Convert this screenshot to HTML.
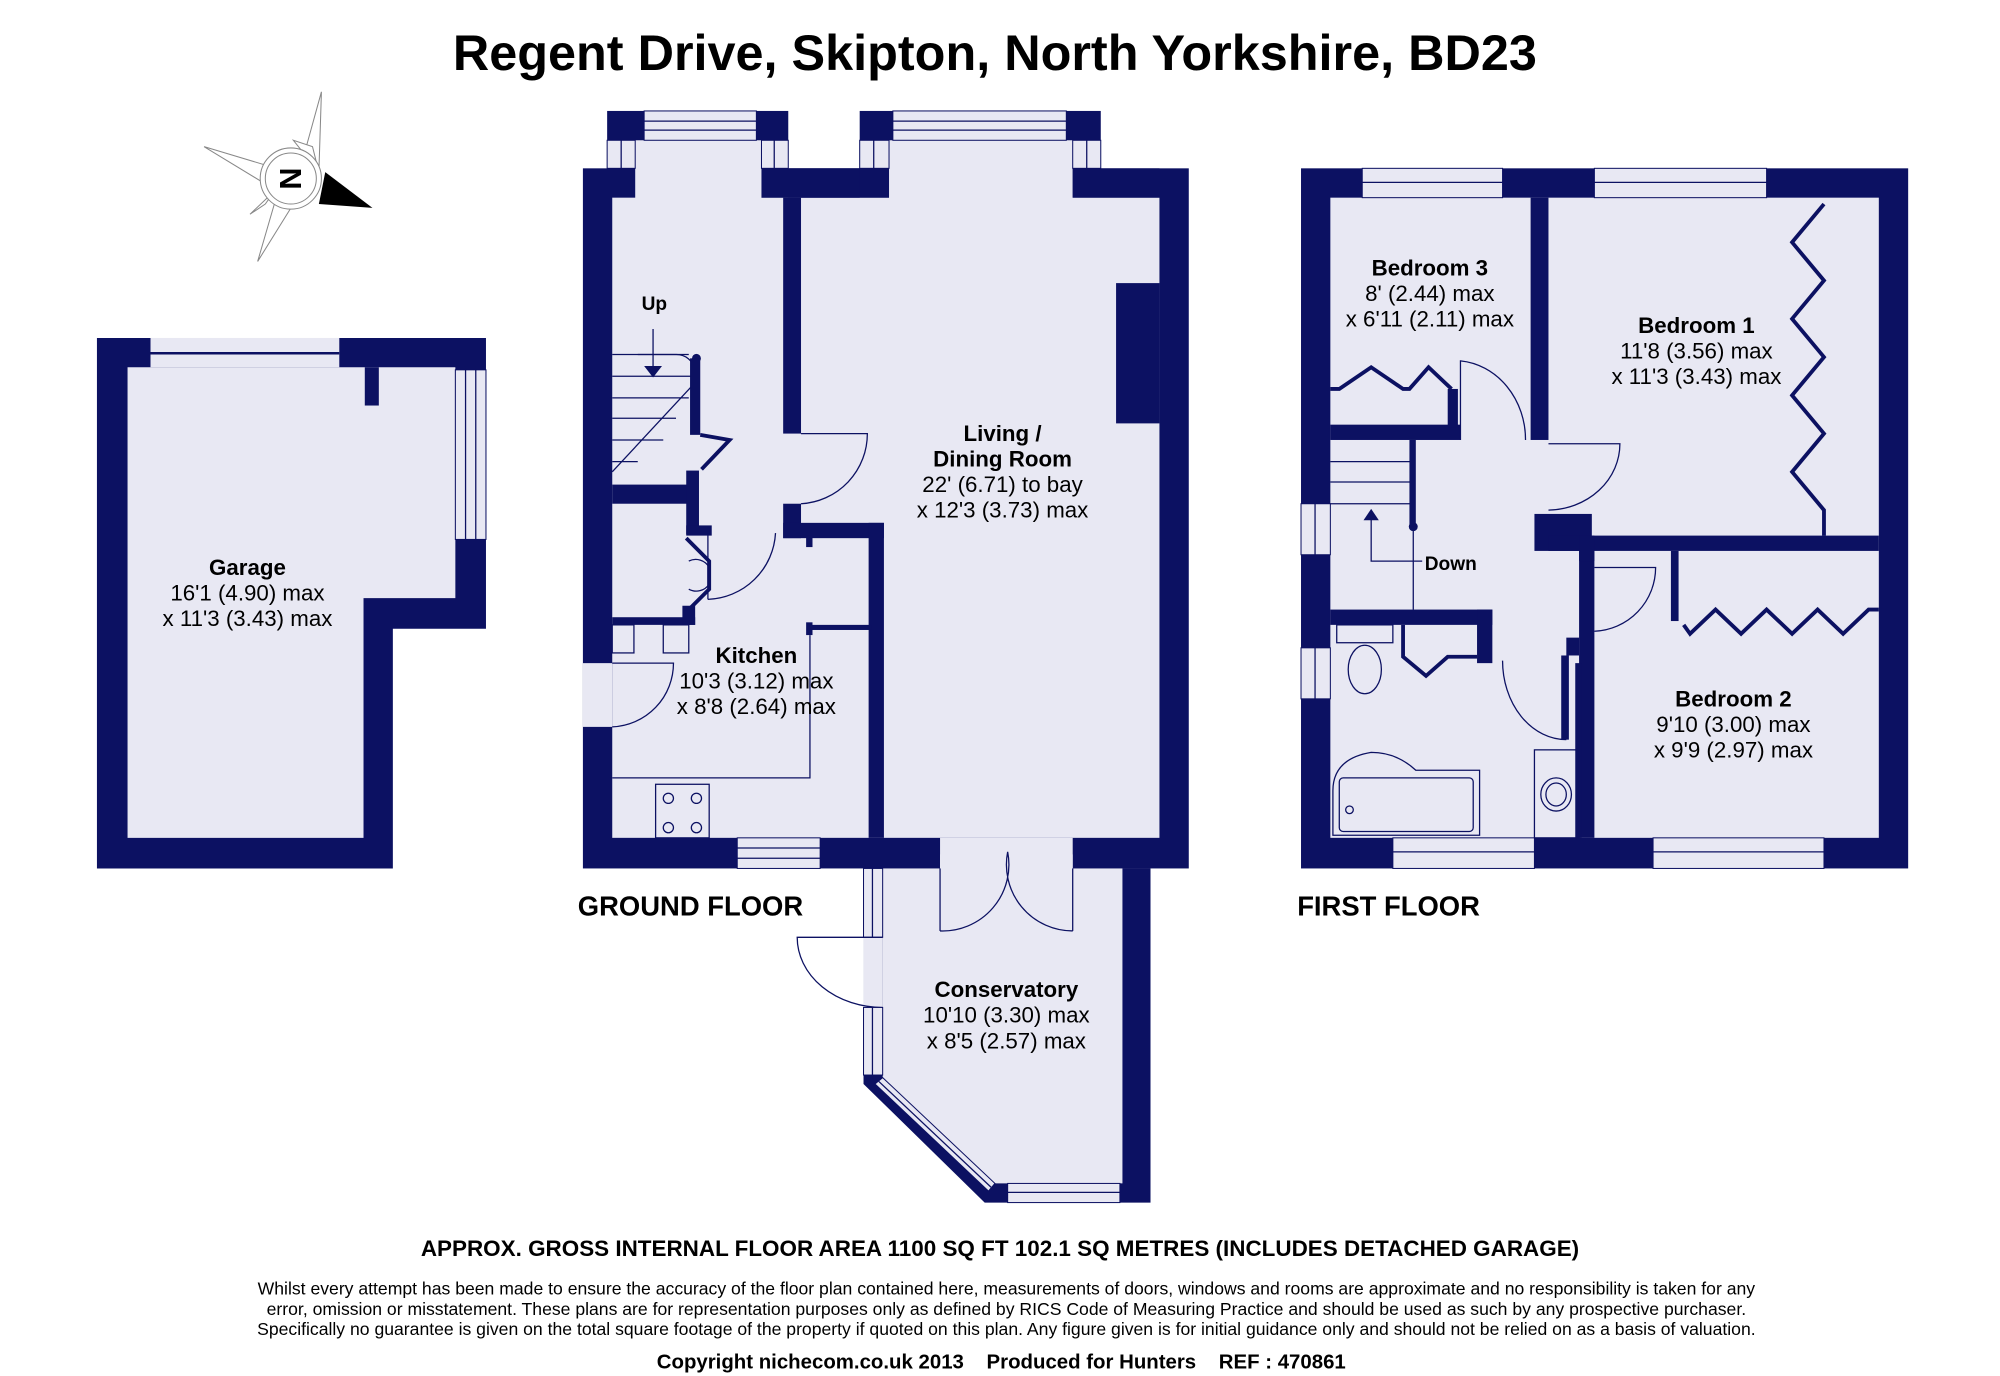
<!DOCTYPE html>
<html><head><meta charset="utf-8"><style>
html,body{margin:0;padding:0;background:#fff;}
svg{display:block;}
text{font-family:"Liberation Sans",Arial,sans-serif;fill:#000;}
</style></head><body>
<svg width="2000" height="1376" viewBox="0 0 1568 1079" preserveAspectRatio="none" xmlns="http://www.w3.org/2000/svg">
<defs><style>
.w{fill:#0c1162;}
.f{fill:#e8e8f3;}
.l{fill:none;stroke:#0c1162;stroke-width:1;}
.win{fill:#e8e8f3;stroke:#0c1162;stroke-width:0.8;}
</style></defs>
<rect width="1568" height="1079" fill="#fff"/>
<text x="780" y="55" font-size="39.5" font-weight="bold" text-anchor="middle">Regent Drive, Skipton, North Yorkshire, BD23</text>

<!-- compass -->
<g stroke="#888" stroke-width="0.8" fill="#fff">
<polygon points="252,72 236,130 250,135"/>
<polygon points="160,115 210,130 206,143"/>
<polygon points="202,205 218,150 230,160"/>
<polygon points="230,110 250,135 245,115"/>
<polygon points="196,168 215,150 208,160"/>
<circle cx="228" cy="140" r="24"/>
<circle cx="228" cy="140" r="20"/>
</g>
<polygon points="255,135 292,163 250,160" fill="#000"/>
<text x="228" y="148" font-size="24" font-weight="bold" text-anchor="middle" transform="rotate(-90 228 140)">N</text>

<!-- GARAGE -->
<polygon class="w" points="76,265 381,265 381,493 308,493 308,681 76,681"/>
<polygon class="f" points="100,288 357,288 357,469 285,469 285,657 100,657"/>
<rect class="f" x="118" y="265" width="148" height="23"/>
<line class="l" x1="118" y1="277" x2="266" y2="277" style="stroke-width:2"/>
<rect class="w" x="286" y="288" width="11" height="30"/>
<rect class="win" x="357" y="290" width="24" height="133"/>
<line class="l" x1="365" y1="290" x2="365" y2="423"/><line class="l" x1="373" y1="290" x2="373" y2="423"/>
<text x="194" y="451" font-size="17.5" font-weight="bold" text-anchor="middle">Garage</text>
<text x="194" y="471" font-size="17.5" text-anchor="middle">16'1 (4.90) max</text>
<text x="194" y="491" font-size="17.5" text-anchor="middle">x 11'3 (3.43) max</text>

<!-- GROUND FLOOR main -->
<rect class="w" x="457" y="132" width="475" height="549"/>
<rect class="f" x="480" y="155" width="429" height="502"/>
<rect class="f" x="498" y="110" width="99" height="50"/>
<rect class="w" x="476" y="87" width="29" height="23"/><rect class="w" x="593" y="87" width="25" height="23"/>
<rect class="win" x="505" y="87" width="88" height="23"/><line class="l" x1="505" y1="95" x2="593" y2="95"/><line class="l" x1="505" y1="102" x2="593" y2="102"/>
<rect class="win" x="476" y="110" width="22" height="22"/><line class="l" x1="487" y1="110" x2="487" y2="132"/>
<rect class="win" x="597" y="110" width="21" height="22"/><line class="l" x1="607" y1="110" x2="607" y2="132"/>
<rect class="w" x="597" y="132" width="100" height="23"/>
<rect class="f" x="697" y="110" width="144" height="50"/>
<rect class="w" x="674" y="87" width="26" height="23"/><rect class="w" x="836" y="87" width="27" height="23"/>
<rect class="win" x="700" y="87" width="136" height="23"/><line class="l" x1="700" y1="95" x2="836" y2="95"/><line class="l" x1="700" y1="102" x2="836" y2="102"/>
<rect class="win" x="674" y="110" width="23" height="22"/><line class="l" x1="685" y1="110" x2="685" y2="132"/>
<rect class="win" x="841" y="110" width="22" height="22"/><line class="l" x1="852" y1="110" x2="852" y2="132"/>
<rect class="w" x="841" y="132" width="68" height="23"/>
<rect class="w" x="618" y="132" width="56" height="23"/>
<rect class="w" x="875" y="222" width="34" height="110"/>
<rect class="f" x="457" y="520" width="23" height="50"/>
<path class="l" d="M480,570 A50,50 0 0 0 528,520 L480,520"/>
<rect class="win" x="578" y="657" width="65" height="24"/><line class="l" x1="578" y1="665" x2="643" y2="665"/><line class="l" x1="578" y1="673" x2="643" y2="673"/>
<rect class="f" x="737" y="657" width="104" height="24"/>
<rect class="w" x="614" y="155" width="14" height="185"/>
<rect class="w" x="614" y="395" width="14" height="27"/>
<rect class="w" x="614" y="410" width="79" height="12"/>
<rect class="w" x="681" y="410" width="12" height="247"/>
<path class="l" d="M628,340 L680,340 A55,55 0 0 1 628,395"/>
<g class="l">
<line x1="480" y1="278" x2="540" y2="278"/><line x1="480" y1="295" x2="545" y2="295"/><line x1="480" y1="312" x2="540" y2="312"/><line x1="480" y1="328" x2="530" y2="328"/><line x1="480" y1="345" x2="520" y2="345"/><line x1="480" y1="362" x2="500" y2="362"/>
<path d="M500,278 L530,278 A15,15 0 0 1 545,290"/>
<path d="M480,370 L545,300"/>
<line x1="512" y1="258" x2="512" y2="290"/>
</g>
<polygon points="505,287 519,287 512,296" fill="#0c1162"/>
<text x="513" y="243" font-size="15" font-weight="bold" text-anchor="middle">Up</text>
<circle cx="546" cy="281" r="3.5" fill="#0c1162"/>
<rect class="w" x="541" y="281" width="8" height="60"/>
<path class="l" d="M549,341 L572,345 L550,368" style="stroke-width:3"/>
<rect class="w" x="480" y="380" width="65" height="15"/>
<rect class="w" x="538" y="369" width="10" height="50"/>
<rect class="w" x="538" y="412" width="20" height="8"/>
<path class="l" d="M538,422 L556,440 L556,462 L538,480" style="stroke-width:3"/>
<path class="l" d="M540,440 A12,12 0 0 1 556,445 M540,462 A12,12 0 0 0 556,458"/>
<rect class="w" x="480" y="484" width="65" height="6"/>
<rect class="w" x="535" y="475" width="10" height="15"/>
<path class="l" d="M555,470 A55,55 0 0 0 608,418"/>
<line class="l" x1="555" y1="418" x2="555" y2="470"/>
<g class="l">
<rect x="480" y="490" width="17" height="22"/><rect x="520" y="490" width="20" height="22"/>
<polyline points="480,610 635,610 635,498"/>
<rect x="514" y="615" width="42" height="42"/>
<circle cx="524" cy="626" r="4"/><circle cx="546" cy="626" r="4"/><circle cx="524" cy="649" r="4"/><circle cx="546" cy="649" r="4"/>
</g>
<rect class="w" x="632" y="420" width="5" height="9"/>
<rect class="w" x="632" y="488" width="5" height="10"/>
<rect class="w" x="635" y="490" width="48" height="4"/>
<text x="593" y="520" font-size="17.5" font-weight="bold" text-anchor="middle">Kitchen</text>
<text x="593" y="540" font-size="17.5" text-anchor="middle">10'3 (3.12) max</text>
<text x="593" y="560" font-size="17.5" text-anchor="middle">x 8'8 (2.64) max</text>
<text x="786" y="346" font-size="17.5" font-weight="bold" text-anchor="middle">Living /</text>
<text x="786" y="366" font-size="17.5" font-weight="bold" text-anchor="middle">Dining Room</text>
<text x="786" y="386" font-size="17.5" text-anchor="middle">22' (6.71) to bay</text>
<text x="786" y="406" font-size="17.5" text-anchor="middle">x 12'3 (3.73) max</text>

<!-- CONSERVATORY -->
<polygon class="w" points="677,681 902,681 902,943 772,943 677,850"/>
<polygon class="f" points="692,681 880,681 880,928 780,928 692,845"/>
<rect class="f" x="737" y="670" width="104" height="15"/>
<rect class="win" x="677" y="681" width="15" height="54"/><line class="l" x1="684" y1="681" x2="684" y2="735"/>
<rect class="f" x="677" y="735" width="15" height="55"/>
<path class="l" d="M692,735 L625,735 A67,55 0 0 0 692,790"/>
<rect class="win" x="677" y="790" width="15" height="53"/><line class="l" x1="684" y1="790" x2="684" y2="843"/>
<polygon class="win" points="686,850 692,845 780,928 775,934"/>
<line class="l" x1="689" y1="848" x2="777" y2="931"/>
<rect class="win" x="790" y="928" width="88" height="15"/><line class="l" x1="790" y1="935" x2="878" y2="935"/>
<path class="l" d="M737,730 A52,52 0 0 0 790,668 M841,730 A52,52 0 0 1 790,668"/>
<line class="l" x1="737" y1="681" x2="737" y2="730"/><line class="l" x1="841" y1="681" x2="841" y2="730"/>
<text x="789" y="782" font-size="17.5" font-weight="bold" text-anchor="middle">Conservatory</text>
<text x="789" y="802" font-size="17.5" text-anchor="middle">10'10 (3.30) max</text>
<text x="789" y="822" font-size="17.5" text-anchor="middle">x 8'5 (2.57) max</text>

<text x="453" y="718" font-size="21.5" font-weight="bold">GROUND FLOOR</text>
<text x="1017" y="718" font-size="21.5" font-weight="bold">FIRST FLOOR</text>

<!-- FIRST FLOOR -->
<rect class="w" x="1020" y="132" width="476" height="549"/>
<rect class="f" x="1043" y="155" width="430" height="502"/>
<rect class="win" x="1068" y="132" width="110" height="23"/><line class="l" x1="1068" y1="143" x2="1178" y2="143"/>
<rect class="win" x="1250" y="132" width="135" height="23"/><line class="l" x1="1250" y1="143" x2="1385" y2="143"/>
<rect class="win" x="1092" y="657" width="111" height="24"/><line class="l" x1="1092" y1="668" x2="1203" y2="668"/>
<rect class="win" x="1296" y="657" width="134" height="24"/><line class="l" x1="1296" y1="668" x2="1430" y2="668"/>
<rect class="win" x="1020" y="395" width="23" height="40"/><line class="l" x1="1031" y1="395" x2="1031" y2="435"/>
<rect class="win" x="1020" y="508" width="23" height="40"/><line class="l" x1="1031" y1="508" x2="1031" y2="548"/>
<rect class="w" x="1200" y="155" width="14" height="190"/>
<rect class="w" x="1043" y="333" width="102" height="12"/>
<rect class="w" x="1135" y="305" width="8" height="30"/>
<path class="l" d="M1145,345 L1145,283 A56,62 0 0 1 1196,345"/>
<path class="l" d="M1214,348 L1270,348 A57,52 0 0 1 1214,400"/>
<rect class="w" x="1203" y="403" width="45" height="29"/>
<rect class="w" x="1214" y="420" width="259" height="12"/>
<rect class="w" x="1238" y="432" width="12" height="225"/>
<rect class="w" x="1238" y="420" width="12" height="20"/>
<path class="l" d="M1250,445 L1298,445 A50,50 0 0 1 1250,495"/>
<rect class="w" x="1310" y="432" width="6" height="55"/>
<polyline class="l" style="stroke-width:3" points="1430,160 1405,190 1430,220 1405,250 1430,280 1405,310 1430,340 1405,370 1430,400 1430,420"/>
<polyline class="l" style="stroke-width:3" points="1320,490 1325,497 1345,478 1365,497 1385,478 1405,497 1425,478 1445,497 1465,478 1473,478"/>
<polyline class="l" style="stroke-width:3" points="1043,305 1050,305 1075,288 1100,305 1105,305 1120,288 1138,305"/>
<g class="l">
<line x1="1108" y1="345" x2="1108" y2="478"/>
<line x1="1043" y1="362" x2="1108" y2="362"/><line x1="1043" y1="378" x2="1108" y2="378"/><line x1="1043" y1="395" x2="1108" y2="395"/>
<polyline points="1075,405 1075,440 1115,440"/>
</g>
<polygon points="1069,408 1081,408 1075,399" fill="#0c1162"/>
<circle cx="1108" cy="413" r="3.5" fill="#0c1162"/>
<rect class="w" x="1105" y="345" width="5" height="68"/>
<text x="1117" y="447" font-size="15" font-weight="bold">Down</text>
<rect class="w" x="1043" y="478" width="127" height="12"/>
<rect class="w" x="1158" y="478" width="12" height="42"/>
<polyline class="l" style="stroke-width:3" points="1100,490 1100,515 1118,530 1135,515 1158,515"/>
<path class="l" d="M1178,518 A50,62 0 0 0 1228,580"/>
<rect class="w" x="1228" y="500" width="10" height="14"/>
<rect class="w" x="1224" y="514" width="6" height="66"/>
<rect class="w" x="1235" y="520" width="5" height="137"/>
<g class="l">
<rect x="1048" y="490" width="44" height="14"/>
<ellipse cx="1070" cy="525" rx="13" ry="19"/>
<path d="M1045,655 L1160,655 L1160,604 L1110,604 Q1095,590 1075,590 Q1045,595 1045,620 Z"/>
<rect x="1050" y="610" width="105" height="42" rx="3"/>
<circle cx="1058" cy="635" r="3"/>
<rect x="1203" y="588" width="35" height="69"/>
<ellipse cx="1220" cy="623" rx="12" ry="13"/><ellipse cx="1220" cy="623" rx="8" ry="9"/>
</g>
<text x="1121" y="216" font-size="17.5" font-weight="bold" text-anchor="middle">Bedroom 3</text>
<text x="1121" y="236" font-size="17.5" text-anchor="middle">8' (2.44) max</text>
<text x="1121" y="256" font-size="17.5" text-anchor="middle">x 6'11 (2.11) max</text>
<text x="1330" y="261" font-size="17.5" font-weight="bold" text-anchor="middle">Bedroom 1</text>
<text x="1330" y="281" font-size="17.5" text-anchor="middle">11'8 (3.56) max</text>
<text x="1330" y="301" font-size="17.5" text-anchor="middle">x 11'3 (3.43) max</text>
<text x="1359" y="554" font-size="17.5" font-weight="bold" text-anchor="middle">Bedroom 2</text>
<text x="1359" y="574" font-size="17.5" text-anchor="middle">9'10 (3.00) max</text>
<text x="1359" y="594" font-size="17.5" text-anchor="middle">x 9'9 (2.97) max</text>

<text x="784" y="985" font-size="17.6" font-weight="bold" text-anchor="middle">APPROX. GROSS INTERNAL FLOOR AREA 1100 SQ FT 102.1 SQ METRES (INCLUDES DETACHED GARAGE)</text>
<text x="789" y="1015" font-size="13.8" text-anchor="middle">Whilst every attempt has been made to ensure the accuracy of the floor plan contained here, measurements of doors, windows and rooms are approximate and no responsibility is taken for any</text>
<text x="789" y="1031" font-size="13.8" text-anchor="middle">error, omission or misstatement. These plans are for representation purposes only as defined by RICS Code of Measuring Practice and should be used as such by any prospective purchaser.</text>
<text x="789" y="1047" font-size="13.8" text-anchor="middle">Specifically no guarantee is given on the total square footage of the property if quoted on this plan. Any figure given is for initial guidance only and should not be relied on as a basis of valuation.</text>
<text x="785" y="1073" font-size="16" font-weight="bold" text-anchor="middle" xml:space="preserve">Copyright nichecom.co.uk 2013    Produced for Hunters    REF : 470861</text>
</svg>
</body></html>
